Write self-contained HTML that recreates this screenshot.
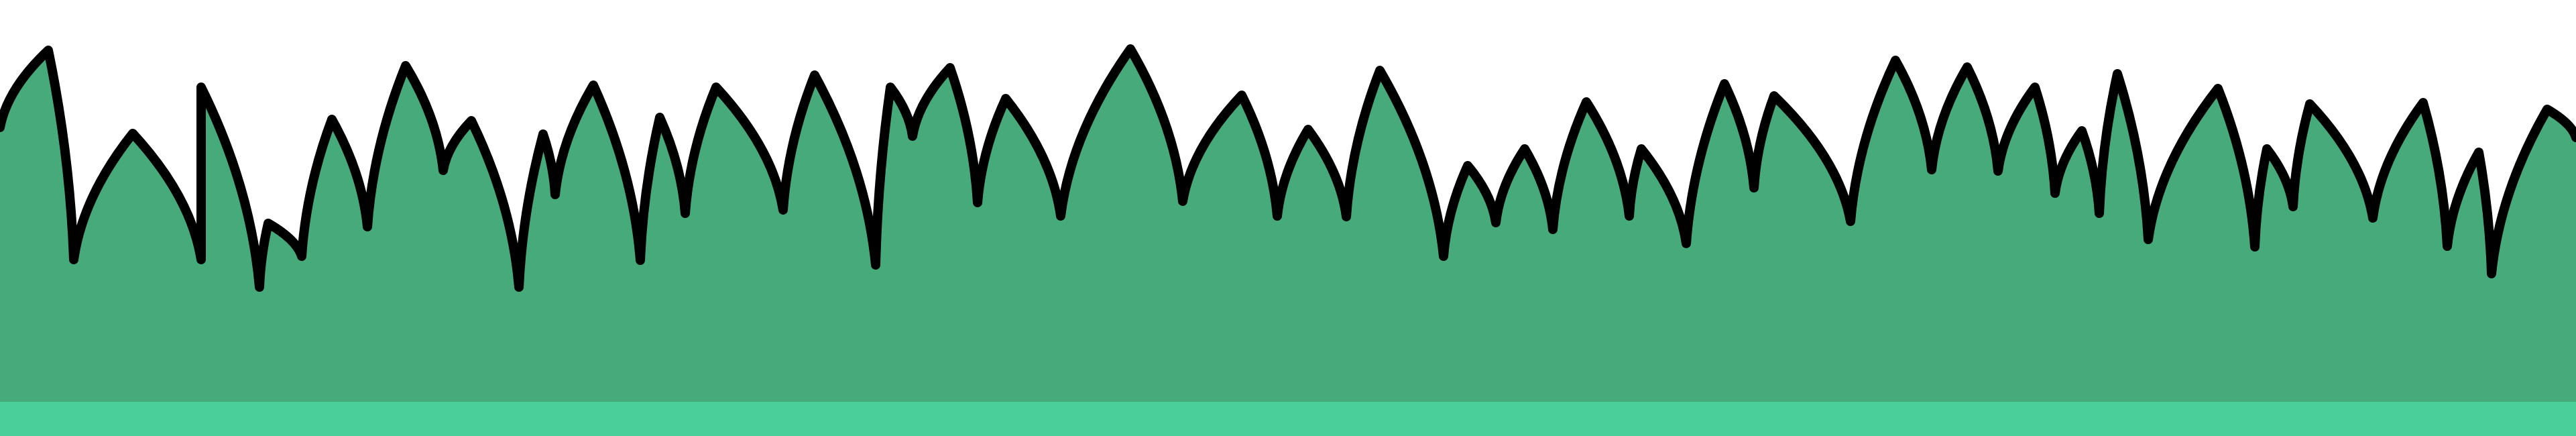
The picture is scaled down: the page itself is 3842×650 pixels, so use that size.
<!DOCTYPE html>
<html>
<head>
<meta charset="utf-8">
<style>
  html, body { margin:0; padding:0; background:#ffffff; }
  #scene { display:block; width:3842px; height:650px; }
</style>
</head>
<body>
<svg id="scene" viewBox="0 0 3842 650" xmlns="http://www.w3.org/2000/svg">
  <rect x="0" y="0" width="3842" height="650" fill="#ffffff"/>
  <path id="grassFill" fill="#47aa7a" stroke="none"/>
  <path id="grassLine" fill="none" stroke="#000" stroke-width="14" stroke-linejoin="round" stroke-linecap="round"/>
  <rect x="0" y="599" width="3842" height="51" fill="#4bcf9a"/>
</svg>
<script>
const bladeX = [0,72,110,198,300,300,387,400,450,495,548,605,661,703,774,810,828,885,955,984,1022,1068,1168,1215,1306,1328,1361,1417,1458,1500,1582,1686,1764,1852,1905,1951,2008,2058,2153,2189,2231,2274,2316,2366,2430,2448,2515,2572,2616,2646,2760,2827,2881,2934,2980,3035,3065,3105,3131,3158,3204,3308,3363,3381,3420,3445,3539,3614,3650,3697,3716,3799,3842];
const bladeY = [190,75,387,199,387,130,428,333,382,178,338,98,254,180,428,200,290,127,388,175,318,130,313,112,395,130,203,101,302,147,322,73,300,142,322,193,323,105,382,247,332,222,342,152,322,222,363,125,280,143,330,90,253,100,255,130,288,195,318,110,357,132,368,222,308,155,325,153,367,227,408,163,205];
let d = 'M' + bladeX[0] + ',' + bladeY[0];
for (let i = 1; i < bladeX.length; i++) {
  const x0 = bladeX[i-1], y0 = bladeY[i-1], x1 = bladeX[i], y1 = bladeY[i];
  const up = y1 < y0;
  const cx = up ? x0 + (x1 - x0) * 0.15 : x0 + (x1 - x0) * 0.85;
  const cy = (y0 + y1) / 2;
  d += ' Q' + cx.toFixed(1) + ',' + cy.toFixed(1) + ' ' + x1 + ',' + y1;
}
document.getElementById('grassLine').setAttribute('d', d);
document.getElementById('grassFill').setAttribute('d', d + ' L3842,650 L0,650 Z');
</script>
</body>
</html>
